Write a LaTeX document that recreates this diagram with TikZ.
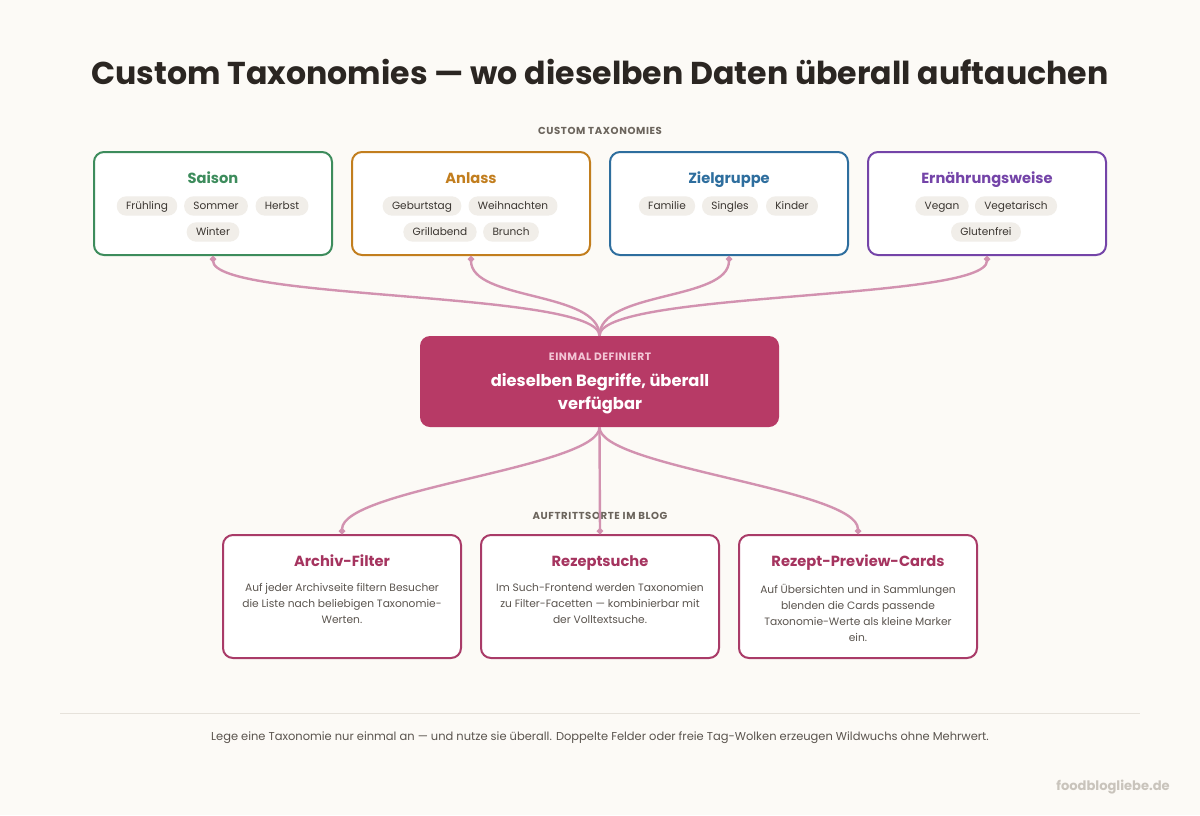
\documentclass[tikz,border=0pt]{standalone}
\usepackage{fontspec}
\setmainfont{Poppins}
\usetikzlibrary{arrows.meta}

\definecolor{paper}{HTML}{FCFAF6}
\definecolor{ink}{HTML}{2B2622}
\definecolor{labelgray}{HTML}{6B645C}
\definecolor{chipfill}{HTML}{F1EEE9}
\definecolor{chipink}{HTML}{3A3530}
\definecolor{saisoncol}{HTML}{3D8C5C}
\definecolor{anlasscol}{HTML}{C27E1E}
\definecolor{zielcol}{HTML}{2E6E9E}
\definecolor{ernaehrcol}{HTML}{7444A8}
\definecolor{corefill}{HTML}{B73A66}
\definecolor{corelabel}{HTML}{F3C6D6}
\definecolor{linkcol}{HTML}{D292B0}
\definecolor{usecol}{HTML}{A93B68}
\definecolor{usetitle}{HTML}{A5345F}
\definecolor{descink}{HTML}{5A544E}
\definecolor{rulecol}{HTML}{E6E2DB}
\definecolor{markcol}{HTML}{C9C4BC}

\tikzset{
  taxbox/.style={draw=#1, line width=1.5pt, fill=white, rounded corners=7.5pt,
    minimum width=178.5pt, minimum height=77.25pt, inner sep=0pt},
  taxtitle/.style={text=#1, font=\fontsize{11}{13}\selectfont\bfseries, inner sep=0pt,
    text height=7.7pt, text depth=0pt},
  chip/.style={fill=chipfill, text=chipink, rounded corners=7pt, inner xsep=7pt,
    minimum height=14.5pt, inner ysep=0pt, font=\fontsize{7.9}{9}\selectfont,
    text height=5.6pt, text depth=0pt},
  usebox/.style={draw=usecol, line width=1.5pt, fill=white, rounded corners=7.5pt,
    minimum width=178.5pt, minimum height=92.25pt, inner sep=0pt},
  usetitlestyle/.style={text=usetitle, font=\fontsize{11}{13}\selectfont\bfseries, inner sep=0pt,
    text height=7.7pt, text depth=0pt},
  desc/.style={text=descink, align=center, inner sep=0pt,
    font=\fontsize{8}{12}\selectfont},
  seclabel/.style={text=labelgray, inner sep=0pt, text height=5.3pt, text depth=0pt,
    font=\fontsize{7.6}{8}\selectfont\bfseries\addfontfeatures{LetterSpace=6}},
  link/.style={draw=linkcol, line width=1.8pt},
}

\begin{document}
\begin{tikzpicture}[x=0.75pt, y=-0.75pt]
		%%%%% START %%%%%
		
		\fill[paper] (0, 0) rectangle (1200, 815);
		\useasboundingbox (0, 0) rectangle (1200, 815);
		
		\node[text=ink, inner sep=0pt, font=\fontsize{23.7}{28}\selectfont\bfseries] (title) at (600, 72) {Custom Taxonomies — wo dieselben Daten überall auftauchen};
		
		\node[seclabel] (taxlabel) at (600, 131) {CUSTOM TAXONOMIES};
		
		% taxonomy boxes
		\node[taxbox=saisoncol] (saison) at (213, 203.5) {};
		\node[taxbox=anlasscol] (anlass) at (471, 203.5) {};
		\node[taxbox=zielcol] (ziel) at (729, 203.5) {};
		\node[taxbox=ernaehrcol] (ernaehr) at (987, 203.5) {};
		
		\node[taxtitle=saisoncol] (saisontitle) at (213, 178) {Saison};
		\node[taxtitle=anlasscol] (anlasstitle) at (471, 178) {Anlass};
		\node[taxtitle=zielcol] (zieltitle) at (729, 178) {Zielgruppe};
		\node[taxtitle=ernaehrcol] (ernaehrtitle) at (987, 178) {Ernährungsweise};
		
		\node[chip] (fruehling) at (147, 206) {Frühling};
		\node[chip] (sommer) at (216, 206) {Sommer};
		\node[chip] (herbst) at (282, 206) {Herbst};
		\node[chip] (winter) at (213, 232) {Winter};
		
		\node[chip] (geburtstag) at (422, 206) {Geburtstag};
		\node[chip] (weihnachten) at (513, 206) {Weihnachten};
		\node[chip] (grillabend) at (440, 232) {Grillabend};
		\node[chip] (brunch) at (511, 232) {Brunch};
		
		\node[chip] (familie) at (667, 206) {Familie};
		\node[chip] (singles) at (730, 206) {Singles};
		\node[chip] (kinder) at (792, 206) {Kinder};
		
		\node[chip] (vegan) at (942, 206) {Vegan};
		\node[chip] (vegetarisch) at (1016, 206) {Vegetarisch};
		\node[chip] (glutenfrei) at (986, 232) {Glutenfrei};
		
		% center
		\node[fill=corefill, rounded corners=7.5pt, minimum width=269.25pt, minimum height=68.25pt, inner sep=0pt] (core) at (599.5, 381.5) {};
		\node[text=corelabel, inner sep=0pt, text height=5.6pt, text depth=0pt, font=\fontsize{8}{9}\selectfont\bfseries\addfontfeatures{LetterSpace=5}] (corelabeltext) at (600, 357) {EINMAL DEFINIERT};
		\node[text=white, align=center, inner sep=0pt, font=\fontsize{12.2}{17.3}\selectfont\bfseries] (coretext) at (600, 394) {dieselben Begriffe, überall\\verfügbar};
		
		% links top
		\draw[link, {Circle[length=4.5pt]}-] (saison.south) .. controls +(0, 45) and +(0, -45) .. (core.north);
		\draw[link, {Circle[length=4.5pt]}-] (anlass.south) .. controls +(0, 45) and +(0, -45) .. (core.north);
		\draw[link, {Circle[length=4.5pt]}-] (ziel.south) .. controls +(0, 45) and +(0, -45) .. (core.north);
		\draw[link, {Circle[length=4.5pt]}-] (ernaehr.south) .. controls +(0, 45) and +(0, -45) .. (core.north);
		
		\node[seclabel] (uselabel) at (600, 516) {AUFTRITTSORTE IM BLOG};
		
		% usage boxes
		\node[usebox] (archiv) at (342, 596.5) {};
		\node[usebox] (suche) at (600, 596.5) {};
		\node[usebox] (cards) at (858, 596.5) {};
		
		\node[usetitlestyle] (archivtitle) at (342, 561) {Archiv-Filter};
		\node[usetitlestyle] (suchetitle) at (600, 561) {Rezeptsuche};
		\node[usetitlestyle] (cardstitle) at (858, 561) {Rezept-Preview-Cards};
		
		\node[desc, anchor=north] (archivdesc) at (342, 583.5) {Auf jeder Archivseite filtern Besucher\\die Liste nach beliebigen Taxonomie-\\Werten.};
		\node[desc, anchor=north] (suchedesc) at (600, 583.5) {Im Such-Frontend werden Taxonomien\\zu Filter-Facetten — kombinierbar mit\\der Volltextsuche.};
		\node[desc, anchor=north] (cardsdesc) at (858, 583.5) {Auf Übersichten und in Sammlungen\\blenden die Cards passende\\Taxonomie-Werte als kleine Marker\\ein.};
		
		% links bottom
		\draw[link, -{Circle[length=4.5pt]}] (core.south) .. controls +(0, 40) and +(0, -45) .. (archiv.north);
		\draw[link, -{Circle[length=4.5pt]}] (core.south) -- (suche.north);
		\draw[link, -{Circle[length=4.5pt]}] (core.south) .. controls +(0, 40) and +(0, -45) .. (cards.north);
		
		% footer
		\draw[rulecol, line width=0.75pt] (60, 713) -- (1140, 713);
		\node[text=descink, inner sep=0pt, font=\fontsize{8.6}{10}\selectfont] (footer) at (600, 738) {Lege eine Taxonomie nur einmal an — und nutze sie überall. Doppelte Felder oder freie Tag-Wolken erzeugen Wildwuchs ohne Mehrwert.};
		\node[text=markcol, anchor=east, inner sep=0pt, font=\fontsize{9.8}{10}\selectfont\bfseries] (mark) at (1170, 787) {foodblogliebe.de};
		
		%%%%% END %%%%%
\end{tikzpicture}
\end{document}
